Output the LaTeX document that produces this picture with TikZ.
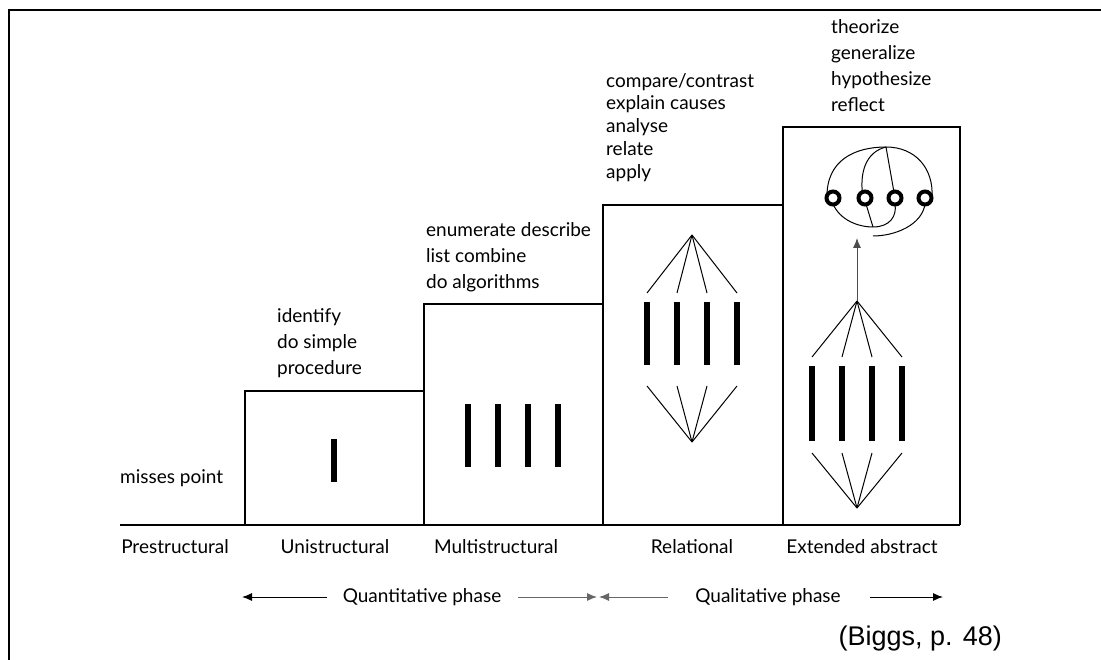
\documentclass[tikz,border=0pt]{standalone}
\usepackage{fontspec}
\setmainfont{Lato}
\newfontfamily\arialf{Liberation Sans}
\usetikzlibrary{arrows.meta}
\begin{document}
\begin{tikzpicture}[x=1pt,y=-1pt,
  frame/.style={line width=2.5pt,black},
  ln/.style={line width=1.3pt,black},
  thinln/.style={line width=1pt,black},
  bar/.style={line width=6pt,black},
  ring/.style={line width=4pt,black,fill=white},
  lbl/.style={font=\fontsize{19}{26}\selectfont,align=left,anchor=north west,inner sep=0pt},
  lblr/.style={font=\fontsize{19}{22.75}\selectfont,align=left,anchor=north west,inner sep=0pt},
  lvlname/.style={font=\fontsize{19}{22}\selectfont,inner sep=0pt},
  arr/.style={line width=1pt,-{Latex[length=10pt,width=8pt]}},
]
\useasboundingbox (0,0) rectangle (1101,660);
\fill[white] (0,0) rectangle (1101,660);
% frame
\draw[frame] (9,660) -- (9,10) -- (1101,10);
% staircase
\draw[ln] (120,525) -- (960,525);
\draw[ln] (245,525) -- (245,391) -- (424,391) -- (424,304) -- (603,304) -- (603,205) -- (783,205) -- (783,127) -- (960,127) -- (960,525);
\draw[ln] (424,391) -- (424,525);
\draw[ln] (603,304) -- (603,525);
\draw[ln] (783,205) -- (783,525);
% unistructural
\draw[bar] (334,439) -- (334,482);
% multistructural
\foreach \x in {468,498,528,558} \draw[bar] (\x,404) -- (\x,467);
% relational
\coordinate (rtop) at (692,235);
\coordinate (rbot) at (692,442);
\foreach \x [count=\i] in {647,677,707,737} {
  \draw[bar] (\x,302) -- (\x,365);
  \coordinate (ru\i) at (\x,293);
  \coordinate (rd\i) at (\x,386);
  \draw[thinln] (rtop) -- (ru\i);
  \draw[thinln] (rbot) -- (rd\i);
}
% extended abstract
\coordinate (etop) at (857,301);
\coordinate (ebot) at (857,508);
\foreach \x [count=\i] in {812,842,872,902} {
  \draw[bar] (\x,366) -- (\x,441);
  \coordinate (eu\i) at (\x,357);
  \coordinate (ed\i) at (\x,453);
  \draw[thinln] (etop) -- (eu\i);
  \draw[thinln] (ebot) -- (ed\i);
}
\coordinate (symb) at (857,238);
\draw[line width=1pt,black!70,-{Latex[length=10pt,width=8pt]}] (etop) -- (symb);
% symbol
\coordinate (T) at (886,147);
\coordinate (B) at (873,227);
\draw[thinln] (827,198) .. controls (826,160) and (855,147) .. (T)
  .. controls (915,147) and (934,168) .. (932,198);
\draw[thinln] (T) .. controls (866,152) and (859,172) .. (863,198);
\draw[thinln] (T) -- (895,198);
\draw[thinln] (833,204) .. controls (840,220) and (858,227) .. (B)
  .. controls (890,227) and (897,216) .. (895,204);
\draw[thinln] (B) -- (866,204);
\draw[thinln] (925,204) .. controls (922,225) and (895,236) .. (873,236);
\foreach \x [count=\i] in {833,865,895,925} \draw[ring] (\x,198) circle (6.5);
% verb labels
\node[lbl] (v0) at (120,469) {misses point};
\node[lbl] (v1) at (277,308) {identify\\do simple\\procedure};
\node[lbl] (v2) at (426,222) {enumerate describe\\list combine\\do algorithms};
\node[lblr] (v3) at (606,73) {compare/contrast\\explain causes\\analyse\\relate\\apply};
\node[lbl] (v4) at (831,19) {theorize\\generalize\\hypothesize\\reflect};
% level names
\node[lvlname] (n0) at (175,547) {Prestructural};
\node[lvlname] (n1) at (335,547) {Unistructural};
\node[lvlname] (n2) at (496,547) {Multistructural};
\node[lvlname] (n3) at (692,547) {Relational};
\node[lvlname] (n4) at (862,547) {Extended abstract};
% phases
\node[lvlname] (q1) at (422,597) {Quantitative phase};
\node[lvlname] (q2) at (768,597) {Qualitative phase};
\coordinate (a1s) at (327,597); \coordinate (a1e) at (242,597);
\coordinate (a2s) at (518,597); \coordinate (a2e) at (597,597);
\coordinate (a3s) at (668,597); \coordinate (a3e) at (599,597);
\coordinate (a4s) at (870,597); \coordinate (a4e) at (943,597);
\draw[arr] (a1s) -- (a1e);
\draw[arr,black!60] (a2s) -- (a2e);
\draw[arr,black!60] (a3s) -- (a3e);
\draw[arr] (a4s) -- (a4e);
% source
\node[font=\arialf\fontsize{27}{30}\selectfont,anchor=east,inner sep=0pt] (src) at (1002,639) {(Biggs, p. 48)};
\end{tikzpicture}
\end{document}
